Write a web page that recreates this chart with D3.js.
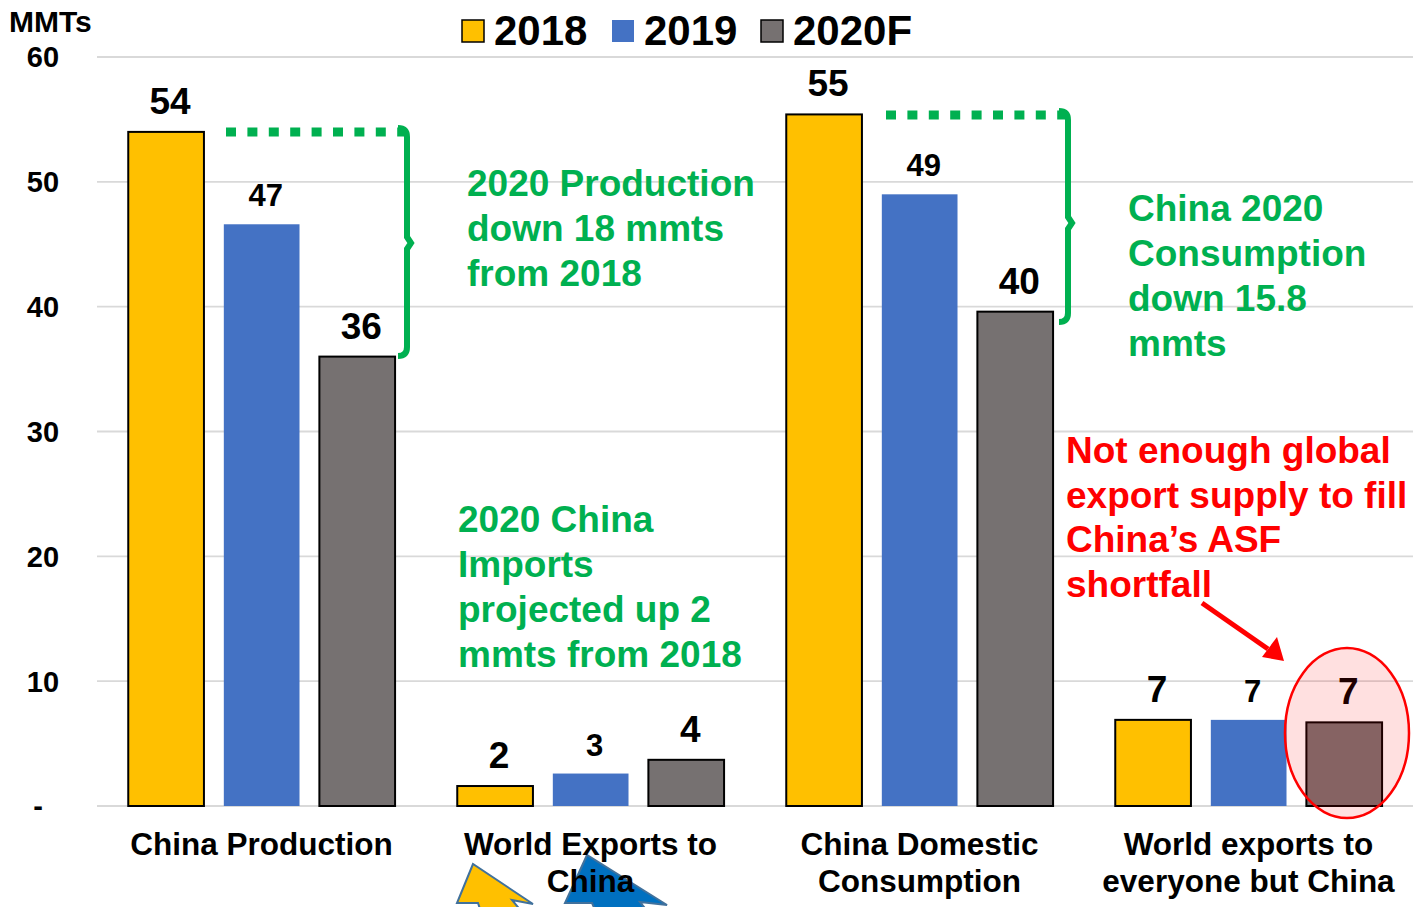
<!DOCTYPE html>
<html>
<head>
<meta charset="utf-8">
<script src="https://cdn.jsdelivr.net/npm/d3@7"></script>
<style>
  html, body { margin: 0; padding: 0; background: #fff; }
  svg { display: block; font-family: "Liberation Sans", Arial, sans-serif; font-weight: bold; }
</style>
</head>
<body>
<svg id="chart" width="1421" height="907"></svg>
<script>
// Pork market balance, million metric tons
const categories = ["China Production", "World Exports to China", "China Domestic Consumption", "World exports to everyone but China"];
const categoryLines = [["China Production"], ["World Exports to", "China"], ["China Domestic", "Consumption"], ["World exports to", "everyone but China"]];
const seriesNames = ["2018", "2019", "2020F"];
const values2018 = [54.0, 1.6, 55.4, 6.9];
const values2019 = [46.6, 2.6, 49.0, 6.9];
const values2020 = [36.0, 3.7, 39.6, 6.7];
const yTicks = [0, 10, 20, 30, 40, 50, 60];

const seriesValues = [values2018, values2019, values2020];
const colors = ["#ffc000", "#4472c4", "#767171"];
const strokes = ["#000", "none", "#000"];
const labelSizes = [37, 31, 37];

const svg = d3.select("#chart");
const plotLeft = 97, plotRight = 1413, plotTop = 57, plotBottom = 806;

const y = d3.scaleLinear().domain([0, 60]).range([plotBottom, plotTop]);
const x0 = d3.scaleBand().domain(categories).range([plotLeft, plotRight]).padding(0);
const bw = x0.bandwidth();
const x1 = d3.scaleBand().domain(seriesNames)
  .range([bw * 0.095, bw * 0.906]).paddingInner(0.208).paddingOuter(0);

// gridlines
svg.append("g").selectAll("line").data(yTicks).join("line")
  .attr("x1", plotLeft).attr("x2", plotRight)
  .attr("y1", d => y(d)).attr("y2", d => y(d))
  .attr("stroke", "#d9d9d9").attr("stroke-width", d => d === 0 ? 2.2 : 1.8);

// y tick labels
svg.append("g").selectAll("text").data(yTicks).join("text")
  .attr("x", d => d === 0 ? 38 : 43)
  .attr("y", d => y(d))
  .attr("dy", "0.36em")
  .attr("text-anchor", "middle")
  .attr("font-size", 29)
  .text(d => d === 0 ? "-" : d);

svg.append("text").attr("x", 9).attr("y", 32).attr("font-size", 30).text("MMTs");

// legend
const legendX = [462, 612, 761];
const lg = svg.append("g");
seriesNames.forEach((s, i) => {
  lg.append("rect").attr("x", legendX[i]).attr("y", 20).attr("width", 22).attr("height", 22)
    .attr("fill", colors[i])
    .attr("stroke", strokes[i]).attr("stroke-width", 1.5);
  lg.append("text").attr("x", legendX[i] + 32).attr("y", 44.5)
    .attr("font-size", 42).text(s);
});

// bars with value labels
const fmt = d3.format(".0f");
seriesNames.forEach((s, si) => {
  const g = svg.append("g");
  const data = categories.map((c, ci) => ({ c, v: seriesValues[si][ci] }));
  g.selectAll("rect").data(data).join("rect")
    .attr("x", d => x0(d.c) + x1(s))
    .attr("y", d => y(d.v))
    .attr("width", x1.bandwidth())
    .attr("height", d => y(0) - y(d.v))
    .attr("fill", colors[si])
    .attr("stroke", strokes[si])
    .attr("stroke-width", 2);
  g.selectAll("text").data(data).join("text")
    .attr("x", d => x0(d.c) + x1(s) + x1.bandwidth() / 2 + 4)
    .attr("y", d => y(d.v) - 18)
    .attr("text-anchor", "middle")
    .attr("font-size", labelSizes[si])
    .text(d => fmt(d.v));
});

// decorative block arrows under the second category
const arrows = svg.append("g").attr("stroke", "#41719c").attr("stroke-width", 2);
arrows.append("polygon")
  .attr("points", "473,864 457,903 478,903 481,912 522,912 512,900 533,904")
  .attr("fill", "#ffc000");
arrows.append("polygon")
  .attr("points", "587,855 565,903 592,903 596,912 648,912 640,902 667,905")
  .attr("fill", "#0070c0");

// category labels
categories.forEach((c, ci) => {
  const cx = x0(c) + bw / 2;
  categoryLines[ci].forEach((line, li) => {
    svg.append("text").attr("x", cx).attr("y", 855 + li * 37)
      .attr("text-anchor", "middle").attr("font-size", 31.5).text(line);
  });
});

// green comparison brackets
const green = "#00b050";
function bracket(xStart, xEnd, yTop, yBot, yMid) {
  const g = svg.append("g").attr("fill", "none").attr("stroke", green);
  g.append("line").attr("x1", xStart).attr("x2", xEnd).attr("y1", yTop + 4).attr("y2", yTop + 4)
    .attr("stroke-width", 9).attr("stroke-dasharray", "10 11.4");
  g.append("path")
    .attr("stroke-width", 6)
    .attr("d", `M${xEnd - 8},${yTop} Q${xEnd + 1},${yTop} ${xEnd + 1},${yTop + 9}
      L${xEnd + 1},${yMid - 6} L${xEnd + 5},${yMid} L${xEnd + 1},${yMid + 6}
      L${xEnd + 1},${yBot - 9} Q${xEnd + 1},${yBot} ${xEnd - 8},${yBot}`);
}
bracket(226, 406, 128, 356, 243);
bracket(886, 1067, 111, 322, 223);

// annotation text
function note(lines, xPos, yFirst, spacing, color) {
  const t = svg.append("text").attr("fill", color).attr("font-size", 37);
  lines.forEach((l, i) => t.append("tspan").attr("x", xPos).attr("y", yFirst + i * spacing).text(l));
}
note(["2020 Production", "down 18 mmts", "from 2018"], 467, 196, 45, green);
note(["China 2020", "Consumption", "down 15.8", "mmts"], 1128, 221, 45, green);
note(["2020 China", "Imports", "projected up 2", "mmts from 2018"], 458, 532, 45, green);
note(["Not enough global", "export supply to fill", "China\u2019s ASF", "shortfall"], 1066, 463, 44.5, "#ff0000");

// red pointer arrow and highlight
svg.append("line").attr("x1", 1202).attr("y1", 603).attr("x2", 1268).attr("y2", 649)
  .attr("stroke", "#ff0000").attr("stroke-width", 5);
svg.append("polygon").attr("points", "1284,661 1262,657 1277,637").attr("fill", "#ff0000");
svg.append("ellipse").attr("cx", 1347).attr("cy", 733).attr("rx", 62).attr("ry", 85)
  .attr("fill", "rgba(255,0,0,0.12)").attr("stroke", "#ff0000").attr("stroke-width", 2.5);
</script>
</body>
</html>
